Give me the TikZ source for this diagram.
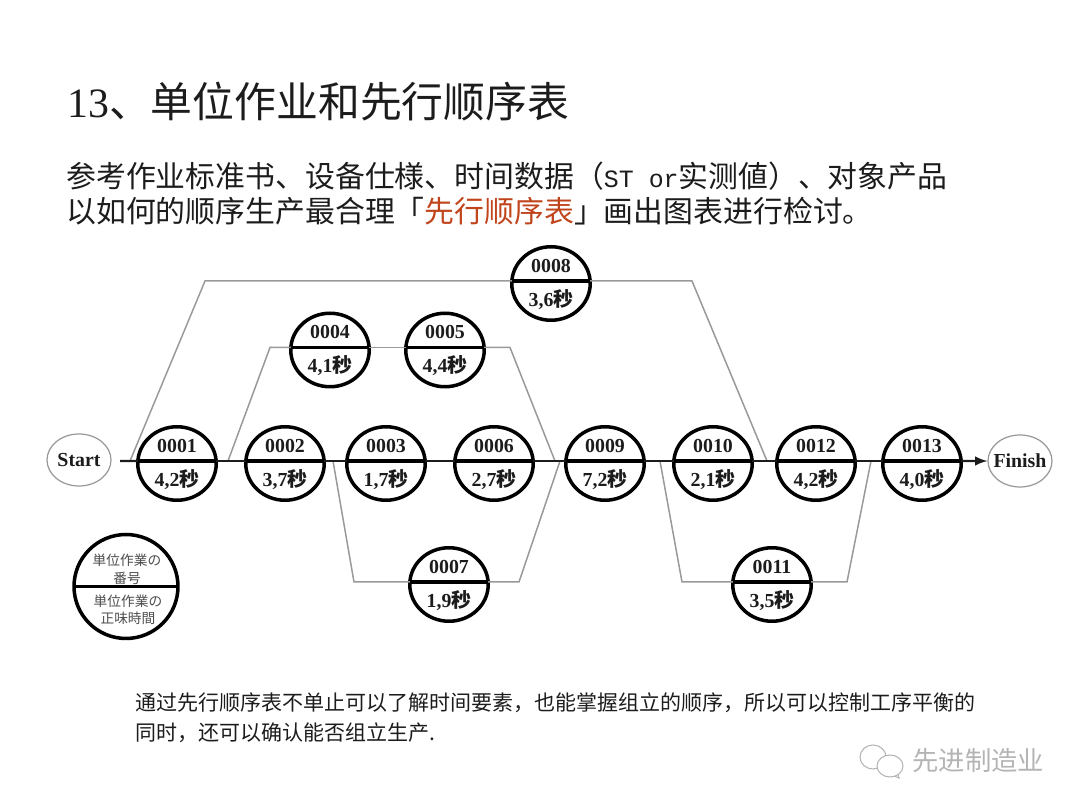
\documentclass[tikz,border=0pt]{standalone}
\usepackage{fontspec}
\usetikzlibrary{shapes.geometric}
\setmainfont{Liberation Serif}
\newfontfamily\cjk{Noto Sans CJK SC}
\newfontfamily\cjkjp{Noto Sans CJK JP}
\newfontfamily\halfmono[Scale=0.833]{Liberation Mono}
\definecolor{inkblack}{HTML}{1C1C1C}
\definecolor{accent}{HTML}{C0441C}
\definecolor{branchgray}{HTML}{999999}
\definecolor{markgray}{HTML}{B4B4B4}
\tikzset{
    unit/.style={ellipse, draw = black, line width = 2pt, minimum width = 1.57cm, minimum height = 1.47cm, inner sep = 0pt, outer sep = 0pt},
    divider/.style={draw = black, line width = 2.2pt},
    mainline/.style={draw = inkblack, line width = 1.4pt},
    branch/.style={draw = branchgray, line width = 0.85pt},
    terminal/.style={ellipse, draw = branchgray, line width = 0.7pt, minimum width = 1.28cm, minimum height = 1.04cm, inner sep = -3pt, font = \bfseries\fontsize{11.3}{12}\selectfont, text = inkblack},
    unittext/.style={inner sep = 0pt, font = \bfseries\fontsize{11.3}{12}\selectfont, text = inkblack},
    legendtext/.style={inner sep = 0pt, font = \cjkjp\fontsize{7.8}{9}\selectfont, text = black!70},
    titletext/.style={anchor = base west, inner sep = 0pt, font = \cjk\fontsize{23.8}{26}\selectfont, text = inkblack},
    bodytext/.style={anchor = base west, inner sep = 0pt, font = \cjk\fontsize{17}{20}\selectfont, text = inkblack},
    notetext/.style={anchor = base west, inner sep = 0pt, font = \cjk\fontsize{11.95}{14}\selectfont, text = inkblack}
}
\begin{document}
\begin{tikzpicture}[x = 0.02cm, y = -0.02cm]
    \useasboundingbox (0, 0) rectangle (1080, 810);

    % heading
    \node (title) at (67, 118) [titletext] {{\rmfamily 13}、单位作业和先行顺序表};
    \node (intro1) at (66, 188) [bodytext] {参考作业标准书、设备仕様、时间数据（{\halfmono ST or}实测値）、对象产品};
    \node (intro2) at (66, 223) [bodytext] {以如何的顺序生产最合理「{\color{accent}先行顺序表}」画出图表进行检讨。};

    % unit operations, py is the height of the dividing line
    \foreach \code/\px/\py/\tm in {0001/177/461/{4,2}, 0002/285/461/{3,7}, 0003/386/461/{1,7}, 0006/494/461/{2,7},
        0009/605/461/{7,2}, 0010/713/461/{2,1}, 0012/816/461/{4,2}, 0013/922/461/{4,0},
        0004/330/347.5/{4,1}, 0005/445/347.5/{4,4}, 0008/551/281/{3,6}, 0007/449/582/{1,9}, 0011/772/582/{3,5}} {
        \node (n\code) at (\px, \py + 2.5) [unit] {};
        \coordinate (w\code) at ([yshift = 0.05cm]n\code.west);
        \coordinate (e\code) at ([yshift = 0.05cm]n\code.east);
        \draw[divider] (w\code) -- (e\code);
        \node (c\code) at (\px, \py - 15) [unittext] {\code};
        \node (t\code) at (\px, \py + 18.5) [unittext] {\tm{\cjk 秒}};
    }

    \node (start) at (79, 460) [terminal] {Start};
    \node (finish) at (1020, 461) [terminal] {Finish};

    % free ends of the lines
    \coordinate (lead) at (120, 461);
    \coordinate (a1) at (130, 461);
    \coordinate (a2) at (205, 281);
    \coordinate (a3) at (692, 281);
    \coordinate (a4) at (767, 461);
    \coordinate (b1) at (228, 461);
    \coordinate (b2) at (270, 347.5);
    \coordinate (b3) at (510, 347.5);
    \coordinate (b4) at (555, 461);
    \coordinate (d1) at (333, 461);
    \coordinate (d2) at (354, 582);
    \coordinate (d3) at (519, 582);
    \coordinate (d4) at (560, 461);
    \coordinate (f1) at (660, 461);
    \coordinate (f2) at (682, 582);
    \coordinate (f3) at (847, 582);
    \coordinate (f4) at (871, 461);

    % branches
    \draw[branch] (a1) -- (a2) -- (w0008);
    \draw[branch] (e0008) -- (a3) -- (a4);
    \draw[branch] (b1) -- (b2) -- (w0004);
    \draw[branch] (e0004) -- (w0005);
    \draw[branch] (e0005) -- (b3) -- (b4);
    \draw[branch] (d1) -- (d2) -- (w0007);
    \draw[branch] (e0007) -- (d3) -- (d4);
    \draw[branch] (f1) -- (f2) -- (w0011);
    \draw[branch] (e0011) -- (f3) -- (f4);

    % main line
    \draw[mainline] (lead) -- (w0001);
    \foreach \from/\to in {0001/0002, 0002/0003, 0003/0006, 0006/0009, 0009/0010, 0010/0012, 0012/0013} {
        \draw[mainline] (e\from) -- (w\to);
    }
    \draw[mainline, -latex] (e0013) -- (finish.west);

    % legend
    \node (legend) at (126, 586.5) [unit, minimum width = 2.08cm, minimum height = 2.08cm] {};
    \draw[divider] (legend.west) -- (legend.east);
    \node (leg1) at (127, 560) [legendtext] {単位作業の};
    \node (leg2) at (127, 578) [legendtext] {番号};
    \node (leg3) at (128, 601) [legendtext] {単位作業の};
    \node (leg4) at (128, 618) [legendtext] {正味時間};

    % note
    \node (note1) at (135, 711) [notetext] {通过先行顺序表不单止可以了解时间要素，也能掌握组立的顺序，所以可以控制工序平衡的};
    \node (note2) at (135, 741) [notetext] {同时，还可以确认能否组立生产.};

    % watermark
    \draw[markgray, line width = 0.6pt, fill = white] (873, 757) ellipse (13 and 12);
    \draw[markgray, line width = 0.6pt, fill = white] (881, 771) -- (899, 778) -- (897, 770) -- cycle;
    \draw[markgray, line width = 0.6pt, fill = white] (890, 766) ellipse (13 and 11);
    \node (mark) at (912, 771) [anchor = base west, inner sep = 0pt, font = \cjk\fontsize{15}{18}\selectfont, text = markgray] {先进制造业};
\end{tikzpicture}
\end{document}
